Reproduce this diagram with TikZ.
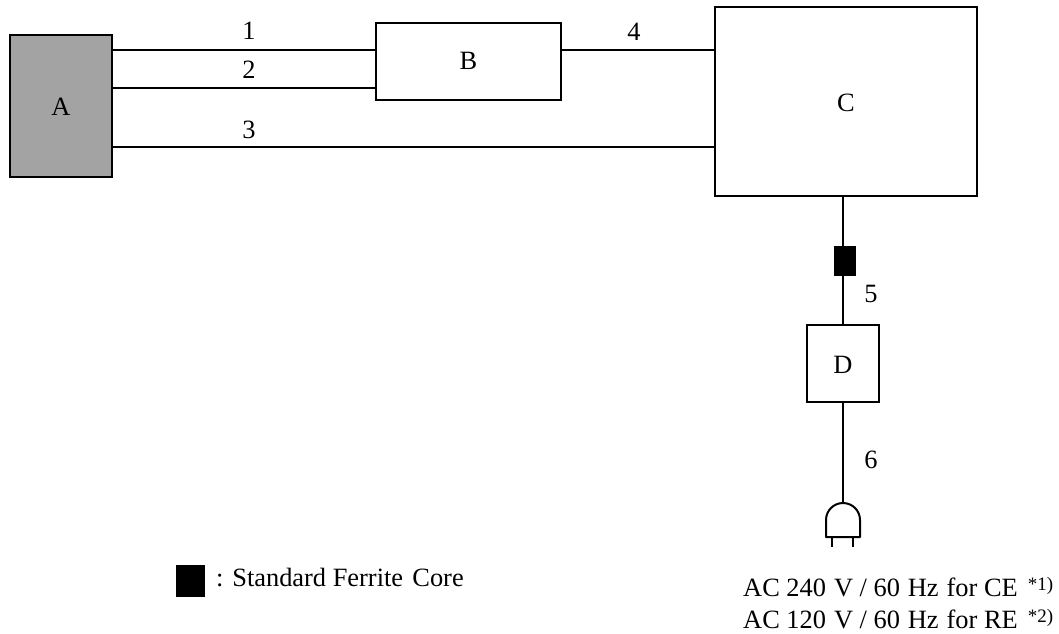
\documentclass[tikz,border=0pt]{standalone}
\usepackage{fontspec}
\setmainfont{Liberation Serif}
\tikzset{
  unitbox/.style={draw=black,line width=1.5pt,inner sep=0pt,fill=white},
  wire/.style={draw=black,line width=1.5pt},
  plugline/.style={draw=black,line width=2pt},
  lbl/.style={inner sep=0pt,font=\fontsize{26.4pt}{32pt}\selectfont,text=black},
  corebox/.style={fill=black,draw=none,inner sep=0pt}
}
\newcommand{\starnote}[1]{\hspace{0.38em}\raisebox{6pt}{\fontsize{19pt}{22pt}\selectfont *#1)}}
\begin{document}
\begin{tikzpicture}[x=1pt,y=-1pt]
\useasboundingbox (0,0) rectangle (1059,633);
\node[unitbox,fill=black!36,minimum width=102pt,minimum height=142pt] (A) at (61,106) {};
\node[lbl] (Atxt) at (61,107) {A};
\node[unitbox,minimum width=185pt,minimum height=77pt] (B) at (468.5,61.5) {};
\node[lbl] (Btxt) at (468.5,61) {B};
\node[unitbox,minimum width=262pt,minimum height=189pt] (C) at (846,101.5) {};
\node[lbl] (Ctxt) at (846,103) {C};
\node[unitbox,minimum width=72pt,minimum height=77pt] (D) at (843,363.5) {};
\node[lbl] (Dtxt) at (843,365) {D};
\node[corebox,minimum width=22pt,minimum height=30pt] (core) at (845,261) {};
\coordinate (plugtop) at (843,503);
% wires
\draw[wire] (A.east |- 0,50) -- (B.west |- 0,50);
\draw[wire] (A.east |- 0,88) -- (B.west |- 0,88);
\draw[wire] (A.east |- 0,147) -- (C.west |- 0,147);
\draw[wire] (B.east |- 0,50) -- (C.west |- 0,50);
\draw[wire] (C.south -| 843,0) -- (D.north);
\draw[wire] (D.south) -- (plugtop);
% plug
\draw[plugline,line join=round] (826,537) -- (826,520) arc[start angle=180,end angle=360,x radius=17pt,y radius=-17pt] -- (860,537) -- cycle;
\draw[plugline] (832,537) -- (832,547);
\draw[plugline] (853,537) -- (853,547);
% labels
\node[lbl] (n1) at (249,31) {1};
\node[lbl] (n2) at (249,70) {2};
\node[lbl] (n3) at (249,130) {3};
\node[lbl] (n4) at (634,32) {4};
\node[lbl] (n5) at (871,294) {5};
\node[lbl] (n6) at (871,460) {6};
\node[corebox,minimum width=29pt,minimum height=32pt] (legend) at (190.5,581) {};
\node[lbl,anchor=base west] (legendtxt) at (216,586) {: Standard Ferrite\hspace{0.1em} Core};
\node[lbl,anchor=base west] (ce) at (743,596) {AC 240\hspace{0.05em} V / 60\hspace{0.05em} Hz\hspace{0.05em} for CE\starnote{1}};
\node[lbl,anchor=base west] (re) at (743,628) {AC 120\hspace{0.05em} V / 60\hspace{0.05em} Hz\hspace{0.05em} for RE\starnote{2}};
\end{tikzpicture}
\end{document}
